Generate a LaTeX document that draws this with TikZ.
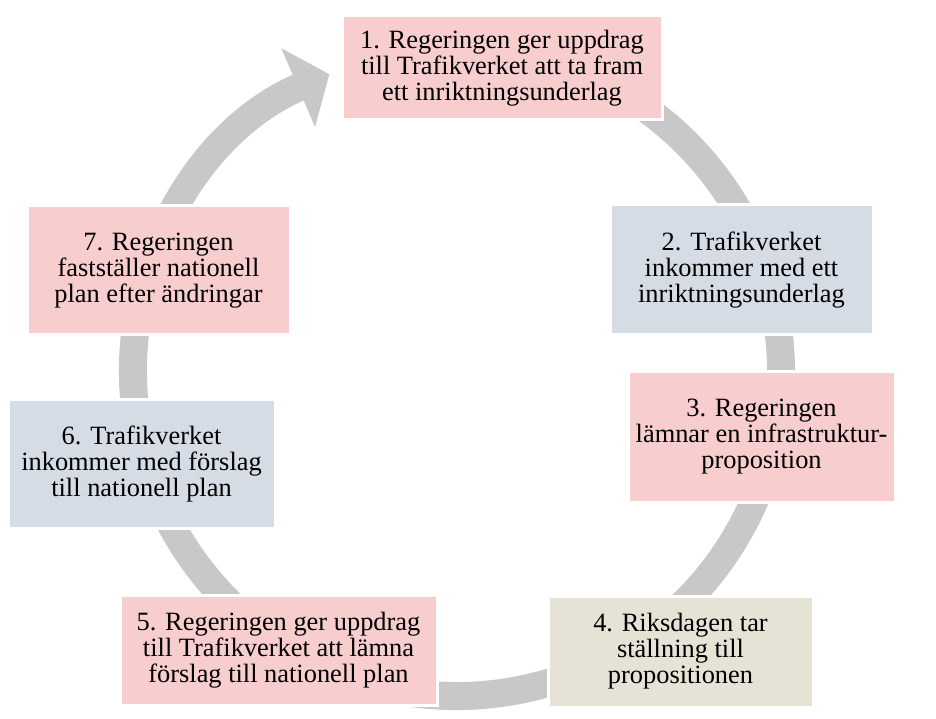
\documentclass[tikz,border=0pt]{standalone}
\usepackage{fontspec}
\setmainfont{Liberation Serif}
\usetikzlibrary{arrows.meta}

\definecolor{boxpink}{RGB}{247,205,206}
\definecolor{boxblue}{RGB}{214,220,229}
\definecolor{boxsand}{RGB}{229,227,214}
\definecolor{ringgray}{RGB}{200,200,200}

\begin{document}
\begin{tikzpicture}[x=0.5pt,y=0.5pt,
                box/.style={rectangle,draw=white,line width=1.5pt,align=center,
                  inner sep=2pt,font=\fontsize{13.2}{13}\selectfont},
                redbox/.style={box,fill=boxpink},
                bluebox/.style={box,fill=boxblue},
                sandbox/.style={box,fill=boxsand},
                ring/.style={draw=ringgray,line width=14pt,
                  -{Triangle[length=17pt,width=42pt]}}]

  \useasboundingbox (0,0) rectangle (936,718);

  % the cycle, drawn first so the boxes sit on top
  \coordinate (c) at (457,346);
  \draw[ring] (c) ++(100:324) arc[start angle=100,end angle=-246.8,radius=324];

  \node[redbox,minimum width=160pt,minimum height=52pt] (1) at (502,650)
    {1. Regeringen ger uppdrag\\till Trafikverket att ta fram\\ett inriktningsunderlag};
  \node[bluebox,minimum width=131.5pt,minimum height=65pt] (2) at (741.5,448)
    {2. Trafikverket\\inkommer med ett\\inriktningsunderlag};
  \node[redbox,minimum width=133.5pt,minimum height=65pt] (3) at (761.5,281)
    {3. Regeringen\\lämnar en infrastruktur-\\proposition};
  \node[sandbox,minimum width=132.5pt,minimum height=55.5pt] (4) at (680.5,66.5)
    {4. Riksdagen tar\\ställning till\\propositionen};
  \node[redbox,minimum width=158.5pt,minimum height=55pt] (5) at (278.5,68)
    {5. Regeringen ger uppdrag\\till Trafikverket att lämna\\förslag till nationell plan};
  \node[bluebox,minimum width=133.5pt,minimum height=64pt] (6) at (141.5,254)
    {6. Trafikverket\\inkommer med förslag\\till nationell plan};
  \node[redbox,minimum width=131.5pt,minimum height=64.5pt] (7) at (158.5,447.5)
    {7. Regeringen\\fastställer nationell\\plan efter ändringar};
\end{tikzpicture}
\end{document}
